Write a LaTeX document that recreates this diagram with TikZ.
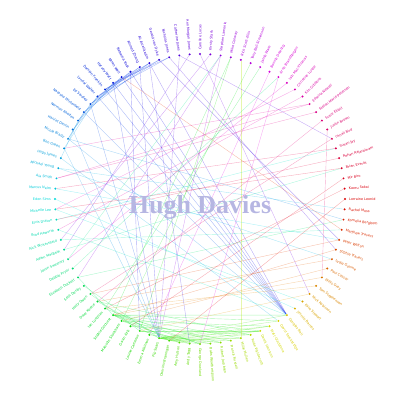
\documentclass[tikz,border=0pt]{standalone}
\usepackage{fontspec}
\setmainfont{Liberation Serif}
\newfontfamily\lblfont{DejaVu Sans}
\pgfdeclarelayer{bg}
\pgfsetlayers{bg,main}
\newcommand\huecolor[3]{% name, hue (deg), value
  \pgfmathsetmacro\hkr{mod(5+#2/60,6)}%
  \pgfmathsetmacro\hkg{mod(3+#2/60,6)}%
  \pgfmathsetmacro\hkb{mod(1+#2/60,6)}%
  \pgfmathsetmacro\hR{#3*(1-max(0,min(\hkr,4-\hkr,1)))}%
  \pgfmathsetmacro\hG{#3*(1-max(0,min(\hkg,4-\hkg,1)))}%
  \pgfmathsetmacro\hB{#3*(1-max(0,min(\hkb,4-\hkb,1)))}%
  \definecolor{#1}{rgb}{\hR,\hG,\hB}%
}
\tikzset{
  dotnode/.style={circle, fill=nc, draw=none, inner sep=0pt, minimum size=2.2pt},
  lblnode/.style={text=nc, inner sep=0pt, font=\lblfont\fontsize{3.4}{3.6}\selectfont},
  linkline/.style={draw=ec, line width=0.4pt, opacity=0.32},
  titletext/.style={text={rgb,255:red,182;green,182;blue,226}, font=\fontsize{26}{26}\selectfont\bfseries}
}
\begin{document}
\begin{tikzpicture}[x=1pt,y=1pt]
\useasboundingbox (-200,-201) rectangle (200,199);
\node[titletext] (title) at (0,-8) {Hugh Davies};
\foreach \nm [count=\i from 0] in {Lorraine Leonid,Kaoru Sakai,Mir Biro,Brian Everitt,Rehan Rajaratnam,Susan Jay,Ismail Bird,Justin Brown,Susie Elliott,Stefan Marie Petersen,Edwina Newell,Kim Gibbons,Christine Lunde,Iain Mac-Thomas,Arne Brandbergen,Bonnie Dowling,Jamie Ware,Tony Bell-Stevenson,Rick Scott-Ellis,Mike Conway,Stephen Lamonie,Kirsty Stark,Caroline Lucas,Ann Morgan Jones,Catherine Jones,Nicholas Jones,Gerald van Dyke,Ali Arcelikasim,Ahmed Zhang,Rebecca Kola,Karen Wall,Harvey Watt,Damian Franklin,Lyndal Walker,Ed Studley,Natasha Winterfield,Norman Rhoden,Harriet Devlin,Nicole Brady,Ben Green,Hugo James,Michael Young,Ala Smith,Marcus Nelm,Eden Sims,Michelle Lee,Elvis Dutton,Brad Haworth,Nick Wintersfield,Adam MacBeth,Jason Sweeney,Debbie Pryor,Elizabeth Dockett,Seth Denby,Holly Owen,Dave Keene,Ian Lundlum,Sophie Gilchrist,Malcolm Stockham,Gavin Aziz,Louise Cameron,Emma Atkinson,Pip Sears,Dominic Brannigan,Amy Hutton,Andy Tagg,George Dowland,Babs Weatherspoon,Robert Jacobsen,Francis Russell,Millie Mullen,Rosie Wyldecroft,Derek Harrison,Matt Gladstone,David Stockbridge,Douglas Bell,Jimmie Barnes,Kate Stewart,Mick Robinson,Tom Stephenson,Willis Gray,Paul Cassar,Lydia Gaume,Sophie Travers,Peter Walton,Matthew Travers,Kornelia Bergbom,Rachel Moss} {
  \pgfmathsetmacro\ang{\i*4.0909091}
  \pgfmathsetmacro\hue{mod(720-\ang,360)}
  \huecolor{nc}{\hue}{0.85}
  \node[dotnode] (n\i) at (\ang:145) {};
  \ifdim\ang pt>90.1pt
    \ifdim\ang pt<269.9pt
      \pgfmathsetmacro\rot{\ang-180}
      \node[lblnode, anchor=east, rotate=\rot] (l\i) at (\ang:149) {\nm};
    \else
      \node[lblnode, anchor=west, rotate=\ang] (l\i) at (\ang:149) {\nm};
    \fi
  \else
    \node[lblnode, anchor=west, rotate=\ang] (l\i) at (\ang:149) {\nm};
  \fi
}
\begin{pgfonlayer}{bg}
\foreach \a/\b/\c in {27/75/27,29/75/29,30/75/30,31/75/31,32/75/32,33/75/33,35/75/35,38/75/38,
24/62/24,28/62/28,31/62/31,34/62/34,37/62/37,20/62/20,
57/62/57,57/64/57,57/66/57,57/68/57,57/70/57,57/72/57,57/74/57,58/65/58,58/69/58,58/73/58,55/63/55,55/71/55,60/67/60,60/72/60,61/68/61,62/64/62,62/65/62,62/66/62,62/67/62,62/68/62,62/69/62,62/70/62,62/71/62,62/72/62,62/73/62,62/74/62,63/70/63,63/73/63,64/72/64,59/71/59,56/66/56,53/62/53,52/57/52,54/60/54,57/75/57,62/75/62,
32/26/32,32/27/32,32/28/32,33/25/33,33/27/33,33/29/33,34/26/34,34/28/34,34/30/34,35/27/35,35/29/35,31/25/31,36/30/36,36/33/36,38/34/38,38/35/38,37/31/37,39/33/39,40/36/40,
18/70/70,19/57/57,17/58/58,16/56/56,19/60/60,21/48/21,20/52/20,
42/9/9,42/10/10,11/47/11,8/55/8,7/80/7,10/39/10,12/45/12,
80/57/80,79/56/79,81/58/81,82/55/82,78/60/78,
87/41/41,86/52/52,85/30/85,84/54/84,83/57/83,
44/76/44,45/77/45,46/5/46,43/84/43,47/75/47,49/3/49,48/85/48,50/20/50,51/14/51,
39/62/39,40/74/40,41/82/41,38/86/38,
22/78/22,23/49/23,25/83/25,24/6/24,26/84/26,27/65/27,29/60/29,13/50/13,15/61/15,14/66/14,4/46/4,2/59/2,1/56/1,0/63/0,6/54/6,3/45/3,5/43/5} {
  \pgfmathsetmacro\ehue{mod(720-\c*4.0909091,360)}
  \huecolor{ec}{\ehue}{0.9}
  \draw[linkline] (n\a) -- (n\b);
}
\end{pgfonlayer}
\end{tikzpicture}
\end{document}
